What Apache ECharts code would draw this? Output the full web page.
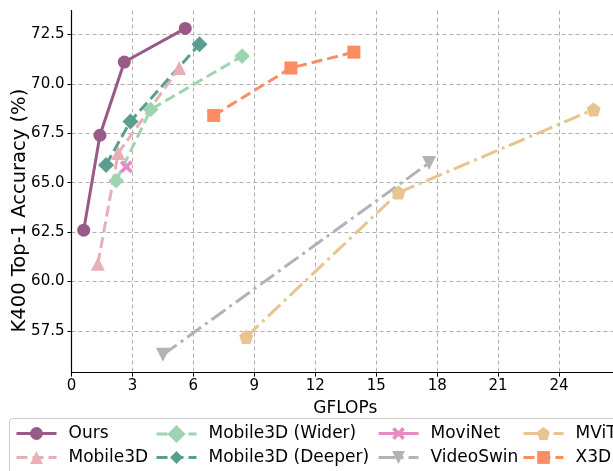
<!DOCTYPE html>
<html>
<head>
<meta charset="utf-8">
<script src="https://cdn.jsdelivr.net/npm/echarts@6/dist/echarts.min.js"></script>
<style>
  html, body { margin: 0; padding: 0; background: #fff; }
  #chart { width: 613px; height: 471px; }
</style>
</head>
<body>
<div id="chart"></div>
<script>
// data (GFLOPs, K400 top-1 %)
var seriesNames = ["Ours", "Mobile3D", "Mobile3D (Wider)", "Mobile3D (Deeper)",
  "MoviNet", "VideoSwin", "MViT", "X3D"];

var oursX = [0.6, 1.4, 2.6, 5.6];
var oursY = [62.6, 67.4, 71.1, 72.8];
var mobile3dX = [1.3, 2.3, 5.3];
var mobile3dY = [60.9, 66.5, 70.8];
var widerX = [2.2, 3.9, 8.4];
var widerY = [65.1, 68.7, 71.4];
var deeperX = [1.7, 2.9, 6.3];
var deeperY = [65.9, 68.1, 72.0];
var movinetX = [2.7];
var movinetY = [65.8];
var videoswinX = [4.5, 17.6];
var videoswinY = [56.3, 66.0];
var mvitX = [8.6, 16.1, 25.7];
var mvitY = [57.2, 64.5, 68.7];
var x3dX = [7.0, 10.8, 13.9];
var x3dY = [68.4, 70.8, 71.6];

var yTicks = [57.5, 60.0, 62.5, 65.0, 67.5, 70.0, 72.5];

var FONT = "DejaVu Sans";
var pentagon = "path://M50 0 L97.6 34.5 L79.4 90.5 L20.6 90.5 L2.4 34.5 Z";
var xMark = "path://M0 20 L20 0 L50 30 L80 0 L100 20 L70 50 L100 80 L80 100 L50 70 L20 100 L0 80 L30 50 Z";
var dashed = [11, 5];
var dashDot = [17, 5, 3, 5];

function pairs(xs, ys) {
  return xs.map(function (x, i) { return [x, ys[i]]; });
}

function lineSeries(name, xs, ys, color, symbol, size, type, rotate) {
  return {
    name: name,
    type: "line",
    data: pairs(xs, ys),
    symbol: symbol,
    symbolSize: size,
    symbolRotate: rotate || 0,
    showAllSymbol: true,
    color: color,
    lineStyle: { color: color, width: 3, type: type },
    itemStyle: { color: color, opacity: 1 },
    animation: false
  };
}

var chart = echarts.init(document.getElementById("chart"));

var legendCols = [15, 155, 377, 522];
var legendRows = [425, 449];
var legends = seriesNames.map(function (n, i) {
  return {
    data: [n],
    left: legendCols[Math.floor(i / 2)],
    top: legendRows[i % 2],
    itemWidth: 40,
    itemHeight: 16,
    padding: 0,
    selectedMode: false,
    lineStyle: { width: 3 },
    textStyle: { fontFamily: FONT, fontSize: 17, color: "#000", padding: [0, 0, 0, 7] }
  };
});

var option = {
  backgroundColor: "#fff",
  animation: false,
  grid: { left: 71.5, top: 10.6, bottom: 98.4, right: -6, outerBoundsMode: "none" },
  legend: legends,
  graphic: [{
    type: "rect",
    shape: { x: 9.5, y: 418.5, width: 700, height: 80, r: 3 },
    style: { fill: "#fff", stroke: "#cccccc", lineWidth: 1 },
    z: -1
  }],
  xAxis: {
    type: "value",
    min: 0,
    max: 26.95,
    interval: 3,
    name: "GFLOPs",
    nameLocation: "middle",
    nameGap: 27,
    nameMoveOverlap: false,
    nameTextStyle: { fontFamily: FONT, fontSize: 17, color: "#000" },
    axisLine: { lineStyle: { color: "#000", width: 1.2 } },
    axisTick: { show: true, length: 4, lineStyle: { color: "#000" } },
    axisLabel: { fontFamily: FONT, fontSize: 15, color: "#000", margin: 6, showMaxLabel: false },
    splitLine: { show: true, lineStyle: { color: "#b0b0b0", type: [4, 3], width: 1 } }
  },
  yAxis: {
    type: "value",
    min: 55.4,
    max: 73.7,
    name: "K400 Top-1 Accuracy (%)",
    nameLocation: "middle",
    nameGap: 42,
    nameMoveOverlap: false,
    nameTextStyle: { fontFamily: FONT, fontSize: 19.5, color: "#000", padding: [0, 38, 0, 0] },
    axisLine: { show: true, lineStyle: { color: "#000", width: 1.2 } },
    axisTick: { show: true, length: 4, lineStyle: { color: "#000" }, customValues: yTicks },
    axisLabel: {
      fontFamily: FONT, fontSize: 15, color: "#000", margin: 7,
      customValues: yTicks,
      formatter: function (v) { return v.toFixed(1); }
    },
    splitLine: { show: true, lineStyle: { color: "#b0b0b0", type: [4, 3], width: 1 } }
  },
  series: [
    lineSeries("MViT", mvitX, mvitY, "#e8c48e", pentagon, 14, dashDot),
    lineSeries("VideoSwin", videoswinX, videoswinY, "#b3b3b3", "triangle", 14, dashDot, 180),
    lineSeries("X3D", x3dX, x3dY, "#fc8d62", "rect", 13, dashed),
    lineSeries("MoviNet", movinetX, movinetY, "#e98ac6", xMark, 13, "solid"),
    lineSeries("Mobile3D (Wider)", widerX, widerY, "#9fd4b0", "rect", 11, dashed, 45),
    lineSeries("Mobile3D", mobile3dX, mobile3dY, "#e6b0b4", "triangle", 14, dashed),
    lineSeries("Mobile3D (Deeper)", deeperX, deeperY, "#5a9e8f", "diamond", 16, dashed),
    lineSeries("Ours", oursX, oursY, "#9a5a88", "circle", 13, "solid")
  ]
};

chart.setOption(option);
</script>
</body>
</html>
